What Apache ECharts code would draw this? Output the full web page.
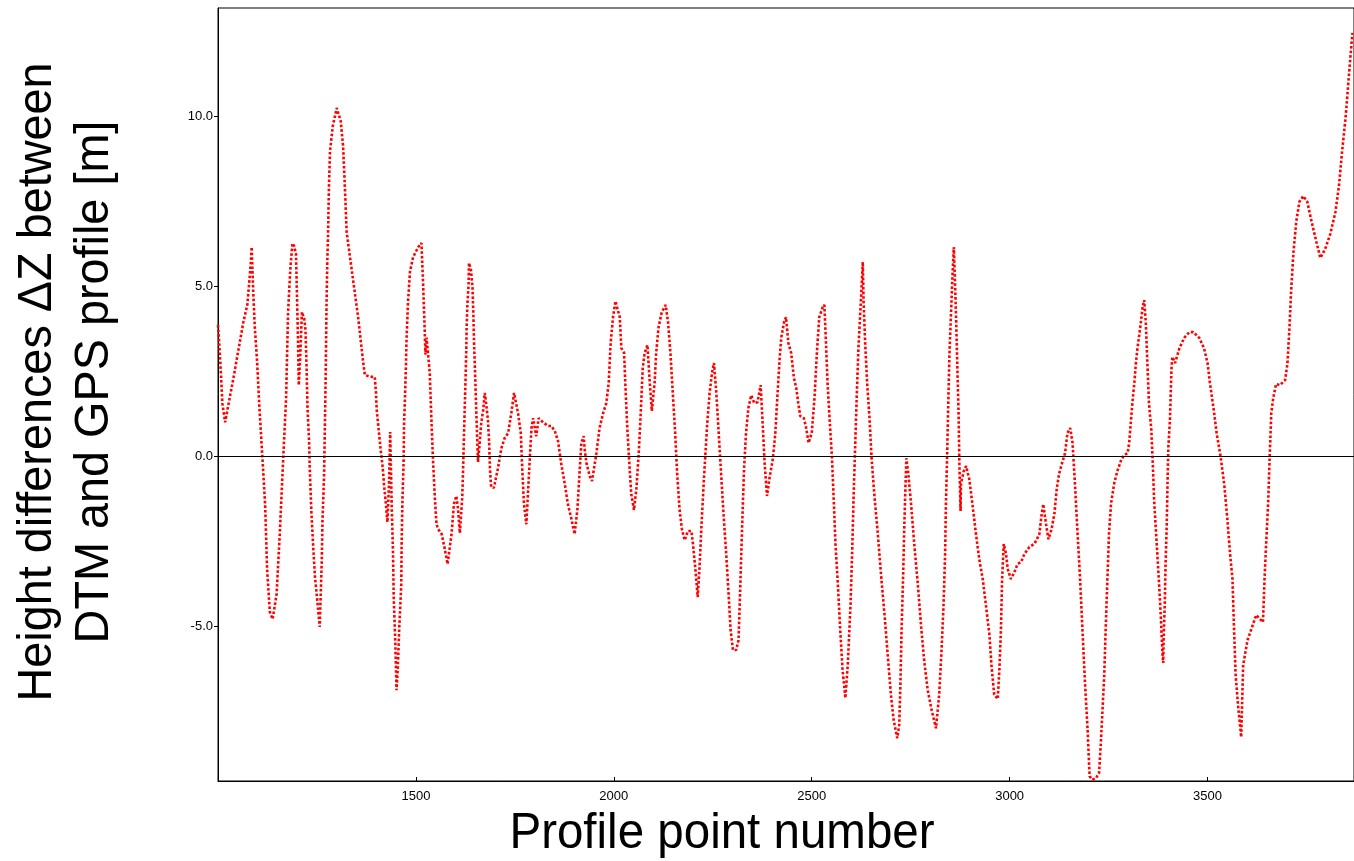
<!DOCTYPE html>
<html>
<head>
<meta charset="utf-8">
<script src="https://cdn.jsdelivr.net/npm/echarts@6/dist/echarts.min.js"></script>
<style>
html,body{margin:0;padding:0;background:#fff;}
#chart{width:1354px;height:861px;}
</style>
</head>
<body>
<div id="chart"></div>
<script>
const xTickValues = [1500, 2000, 2500, 3000, 3500];
const yTickValues = [-5, 0, 5, 10];

const pointNumber = [
1000,1003,1008,1011,1018,1039,1064,1074,1079,1083,1085,1089,1093,1099,1104,1112,1119,1124,1131,1138,
1148,1156,1165,1172,1177,1183,1188,1192,1197,1199,1202,1204,1208,1212,1218,1221,1224,1226,1230,1232,
1236,1241,1245,1249,1253,1257,1262,1264,1268,1270,1272,1274,1276,1278,1280,1283,1290,1300,1310,1316,
1321,1325,1342,1354,1367,1371,1384,1396,1399,1401,1406,1411,1416,1420,1424,1428,1432,1435,1437,1439,
1442,1444,1448,1451,1454,1458,1463,1464,1466,1469,1470,1473,1475,1476,1480,1485,1493,1506,1514,1518,
1522,1524,1527,1535,1539,1543,1548,1552,1556,1565,1573,1580,1590,1596,1602,1606,1611,1617,1619,1621,
1623,1625,1627,1628,1630,1633,1634,1639,1643,1645,1647,1649,1651,1653,1655,1657,1662,1665,1670,1674,
1677,1682,1685,1687,1690,1697,1707,1716,1724,1733,1741,1748,1758,1765,1768,1773,1779,1783,1788,1792,
1796,1804,1810,1821,1834,1842,1851,1859,1867,1876,1884,1893,1901,1908,1914,1918,1924,1926,1931,1939,
1945,1956,1964,1973,1981,1987,1992,1998,2004,2010,2015,2019,2026,2029,2034,2040,2044,2051,2057,2063,
2068,2073,2078,2085,2090,2096,2103,2107,2113,2121,2131,2137,2143,2149,2155,2160,2166,2172,2179,2187,
2196,2200,2206,2212,2217,2221,2227,2231,2236,2242,2248,2253,2259,2265,2271,2278,2284,2290,2295,2301,
2309,2315,2318,2322,2326,2329,2334,2340,2347,2355,2363,2371,2376,2381,2387,2393,2402,2408,2413,2419,
2423,2430,2435,2441,2448,2455,2461,2466,2471,2480,2486,2492,2500,2507,2513,2519,2528,2532,2536,2540,
2545,2551,2556,2560,2566,2572,2578,2585,2591,2598,2602,2606,2610,2614,2618,2622,2626,2629,2631,2635,
2640,2646,2651,2658,2667,2675,2684,2692,2700,2707,2716,2721,2724,2727,2731,2734,2737,2739,2744,2751,
2759,2768,2776,2784,2793,2803,2814,2822,2828,2833,2837,2839,2842,2845,2848,2852,2856,2859,2862,2865,
2868,2871,2873,2876,2877,2884,2890,2898,2906,2915,2923,2932,2940,2949,2954,2961,2970,2974,2978,2981,
2985,2991,2995,3003,3012,3020,3029,3037,3050,3062,3069,3075,3081,3085,3092,3098,3106,3113,3119,3125,
3134,3140,3146,3153,3159,3165,3171,3178,3184,3190,3197,3202,3209,3218,3226,3230,3234,3239,3243,3247,
3251,3256,3264,3272,3281,3289,3298,3302,3306,3310,3315,3319,3323,3330,3336,3340,3344,3348,3352,3358,
3362,3365,3369,3373,3378,3382,3386,3388,3389,3392,3394,3397,3399,3401,3405,3407,3409,3411,3418,3429,
3441,3454,3464,3479,3491,3500,3506,3515,3523,3533,3542,3550,3557,3563,3567,3571,3577,3585,3590,3601,
3623,3640,3644,3648,3653,3657,3661,3666,3673,3683,3696,3702,3707,3711,3717,3724,3732,3742,3752,3763,
3775,3785,3797,3810,3823,3832,3840,3849,3857,3866
];

const deltaZ = [
3.87,3.35,2.31,1.57,1.01,2.31,3.95,4.46,5.13,5.72,6.16,4.84,3.8,2.75,1.57,0,-1.4,-3.3,-4.57,-4.78,
-4.05,-2.28,0,1.72,4.24,5.57,6.27,6.2,5.95,5.0,3.5,2.1,3.0,4.25,4.05,3.72,2.54,1.46,0.49,-0.4,
-1.66,-2.75,-3.54,-4.01,-4.51,-5.01,-3.13,-1.87,-0.54,0.87,2.34,4.31,5.69,6.5,7.8,8.98,9.72,10.25,9.87,9.13,
7.8,6.6,5.13,4.1,2.75,2.4,2.35,2.34,1.9,1.37,0.78,0.19,-0.31,-0.9,-1.37,-1.93,-0.8,0.72,-0.4,-1.5,
-2.75,-4.16,-5.49,-6.87,-6.28,-5.0,-3.78,-2.51,-1.28,-0.1,0.93,1.96,2.75,3.34,4.54,5.43,5.87,6.16,6.28,5.13,
3.8,3.0,3.5,2.46,1.13,-0.05,-1.25,-1.99,-2.13,-2.28,-2.72,-3.16,-2.28,-1.4,-1.16,-1.5,-2.25,-1.22,-0.46,0.43,
1.28,2.1,2.99,3.72,4.46,5.04,5.69,5.5,4.96,4.25,3.28,2.64,1.9,1.16,0.49,-0.16,0.54,0.98,1.37,1.87,
1.6,1.07,0.43,-0.34,-0.9,-0.92,-0.36,0.25,0.54,0.69,1.28,1.87,1.28,0.69,-0.2,-1.4,-1.99,-1.1,0,0.84,
1.13,0.6,1.13,1.01,0.9,0.9,0.75,0.46,-0.2,-0.8,-1.4,-1.84,-2.28,-1.55,-0.36,0.4,0.6,0.25,-0.2,-0.57,
-0.72,0.1,0.84,1.28,1.57,2.16,3.34,4.1,4.57,4.31,4.1,3.19,3.05,2.16,0.84,-0.36,-1.1,-1.57,-0.95,0.1,
1.28,2.6,3.05,3.28,2.31,1.34,2.16,3.05,3.8,4.24,4.46,3.95,3.05,1.87,0.69,-0.5,-1.55,-2.13,-2.46,-2.19,
-2.19,-2.57,-3.31,-4.13,-3.16,-2.13,-0.8,0,0.98,1.87,2.46,2.75,1.87,0.69,-0.5,-1.84,-2.87,-4.05,-5.1,-5.69,
-5.69,-5.4,-4.36,-2.87,-1.4,-0.36,0.69,1.43,1.8,1.57,1.6,2.1,0.98,-0.2,-1.16,-0.66,-0.05,0.69,1.72,2.9,
3.49,3.95,4.1,3.34,3.05,2.31,2.01,1.57,1.19,1.13,0.84,0.4,0.69,1.72,3.05,4.1,4.4,4.46,3.34,2.16,
1.13,0,-1.4,-2.57,-3.75,-5.1,-6.28,-7.1,-6.13,-4.36,-2.87,-1.1,0.4,1.87,3.19,4.1,4.98,5.72,4.54,3.34,
2.16,1.13,0,-1.1,-2.28,-3.46,-4.66,-5.84,-7.0,-7.75,-8.28,-7.9,-6.72,-5.1,-3.46,-1.99,-0.8,-0.05,-0.5,-1.4,
-2.57,-3.75,-4.95,-5.99,-6.87,-7.46,-7.99,-7.0,-5.69,-4.36,-2.87,-1.4,0,1.57,3.05,4.24,5.43,6.16,5.13,3.95,
2.6,1.28,-0.2,-1.6,-0.8,-0.43,-0.28,-0.66,-1.4,-2.28,-3.0,-3.6,-4.36,-5.25,-6.13,-7.0,-7.13,-6.28,-5.1,-3.6,
-2.57,-2.87,-3.3,-3.6,-3.4,-3.16,-3.1,-2.87,-2.66,-2.57,-2.43,-2.28,-1.69,-1.4,-1.99,-2.43,-2.13,-1.69,-0.95,-0.5,
-0.13,0.1,0.69,0.84,0.4,-0.8,-2.13,-3.6,-5.1,-6.57,-8.04,-9.4,-9.5,-9.46,-9.3,-8.5,-7.6,-6.43,-4.95,-3.6,
-2.28,-1.4,-0.8,-0.43,-0.13,0.04,0.1,0.4,0.98,1.57,2.16,2.75,3.19,3.8,4.4,4.6,3.95,2.75,1.57,0.78,
-0.31,-1.28,-2.07,-2.84,-3.84,-4.72,-5.78,-6.07,-5.4,-4.31,-3.13,-1.96,-0.69,0.28,1.07,1.87,2.6,2.93,2.75,3.19,
3.49,3.66,3.66,3.49,3.19,2.75,2.16,1.43,0.69,0,-0.8,-1.84,-2.87,-3.6,-5.1,-6.43,-7.31,-8.25,-6.13,-5.4,
-4.66,-4.87,-3.6,-2.57,-1.4,0,1.28,1.72,2.13,2.1,2.25,2.75,3.8,4.84,6.0,6.9,7.49,7.66,7.49,6.9,
6.31,5.84,6.1,6.54,7.19,7.96,8.98,10.0,11.19,12.46
];

const seriesData = pointNumber.map((p, i) => [p, deltaZ[i]]);
const FONT = "'Liberation Sans', Arial, Helvetica, sans-serif";

const chart = echarts.init(document.getElementById('chart'), null, {renderer: 'canvas'});
chart.setOption({
  backgroundColor: '#ffffff',
  animation: false,
  grid: {left: 218, top: 8, right: -1, bottom: 80, show: true, borderColor: '#000', borderWidth: 1, containLabel: false},
  xAxis: {
    type: 'value', min: 1000, max: 3870,
    axisLine: {show: true, onZero: false, lineStyle: {color: '#000', width: 1}},
    axisTick: {show: true, inside: true, length: 4, customValues: xTickValues, lineStyle: {color: '#000'}},
    axisLabel: {show: true, customValues: xTickValues, color: '#000', fontFamily: FONT, fontSize: 13, margin: 9,
      formatter: v => String(Math.round(v))},
    splitLine: {show: false}
  },
  yAxis: {
    type: 'value', min: -9.54, max: 13.19,
    axisLine: {show: true, onZero: false, lineStyle: {color: '#000', width: 1}},
    axisTick: {show: true, inside: false, length: 4, customValues: yTickValues, lineStyle: {color: '#000'}},
    axisLabel: {show: true, customValues: yTickValues, color: '#000', fontFamily: FONT, fontSize: 13, margin: 5,
      formatter: v => Number(v).toFixed(1)},
    splitLine: {show: false}
  },
  series: [{
    type: 'line',
    data: seriesData,
    showSymbol: false,
    clip: true,
    lineStyle: {color: '#ff0000', width: 2.6, type: [2.6, 2.0], cap: 'butt'},
    markLine: {
      silent: true, symbol: 'none', label: {show: false},
      lineStyle: {color: '#000', width: 1, type: 'solid'},
      data: [{yAxis: 0}]
    }
  }],
  graphic: [
    {
      type: 'text', x: 722, y: 834, scaleX: 0.95,
      style: {text: 'Profile point number', fontFamily: FONT, fontSize: 50, fill: '#000',
        textAlign: 'center', textVerticalAlign: 'middle'}
    },
    {
      type: 'text', x: 66, y: 382, rotation: Math.PI / 2, scaleX: 0.975,
      style: {text: 'Height differences \u0394Z between\nDTM and GPS profile [m]', fontFamily: FONT,
        fontSize: 48, lineHeight: 57, fill: '#000', textAlign: 'center', textVerticalAlign: 'middle'}
    }
  ]
});
</script>
</body>
</html>
